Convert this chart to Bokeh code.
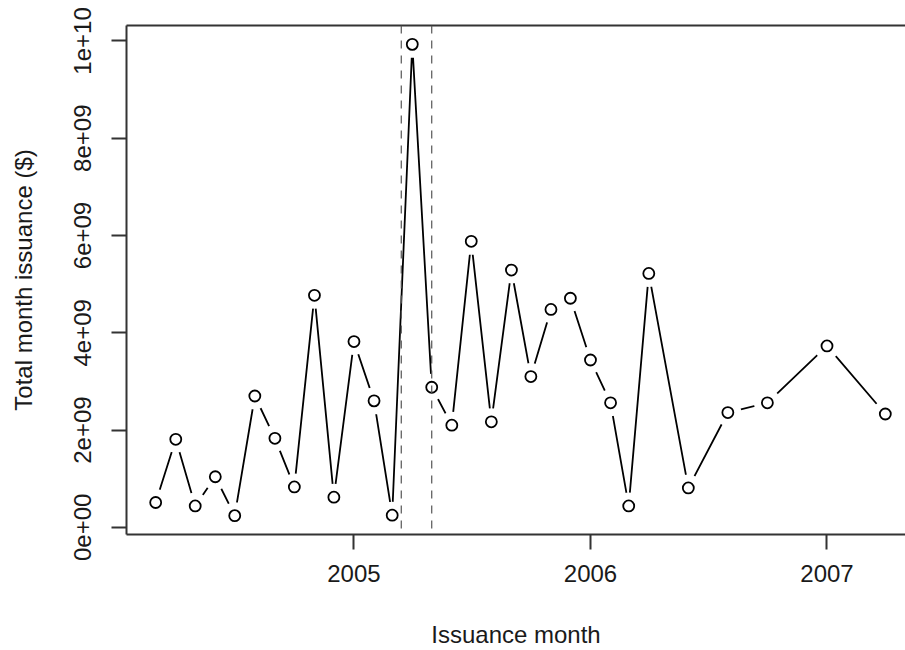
import pandas as pd
from bokeh.plotting import figure
from bokeh.models import (Range1d, FixedTicker, DatetimeTickFormatter, LinearAxis,
                          Span, ColumnDataSource)
from bokeh.embed import file_html
from bokeh.resources import INLINE

# ---------------- data ----------------
months = [
    "2004-03-01", "2004-04-01", "2004-05-01", "2004-06-01", "2004-07-01",
    "2004-08-01", "2004-09-01", "2004-10-01", "2004-11-01", "2004-12-01",
    "2005-01-01", "2005-02-01", "2005-03-01", "2005-04-01", "2005-05-01",
    "2005-06-01", "2005-07-01", "2005-08-01", "2005-09-01", "2005-10-01",
    "2005-11-01", "2005-12-01", "2006-01-01", "2006-02-01", "2006-03-01",
    "2006-04-01", "2006-06-01", "2006-08-01", "2006-10-01", "2007-01-01",
    "2007-04-01",
]
issuance_bn = [
    0.51, 1.81, 0.44, 1.04, 0.24,
    2.70, 1.83, 0.83, 4.77, 0.62,
    3.82, 2.60, 0.25, 9.93, 2.88,
    2.10, 5.88, 2.17, 5.29, 3.10,
    4.48, 4.71, 3.44, 2.56, 0.44,
    5.22, 0.81, 2.36, 2.56, 3.73,
    2.33,
]
event_dates = ["2005-03-15", "2005-05-01"]
x_tick_dates = ["2005-01-01", "2006-01-01", "2007-01-01"]
x_tick_labels = ["2005", "2006", "2007"]
y_ticks = [0, 2e9, 4e9, 6e9, 8e9, 1e10]
y_tick_labels = ["0e+00", "2e+09", "4e+09", "6e+09", "8e+09", "1e+10"]


def to_ms(d):
    return pd.Timestamp(d).value // 10**6


x_ms = [to_ms(d) for d in months]
totals = [v * 1e9 for v in issuance_bn]
event_ms = [to_ms(d) for d in event_dates]
x_tick_ms = [to_ms(d) for d in x_tick_dates]

# R-style 4% range extension; the right end is cropped as in the reference
xmin, xmax = min(x_ms), max(x_ms)
xspan = xmax - xmin
x0 = xmin - 0.04 * xspan
x1_full = xmax + 0.04 * xspan
x1 = x0 + (x1_full - x0) * 779.0 / 788.0
ymin, ymax = min(totals), max(totals)
yspan = ymax - ymin
y0 = ymin - 0.04 * yspan
y1 = ymax + 0.04 * yspan

FONT = "Liberation Sans"
INK = "#1a1a1a"
AXC = "#333333"

p = figure(width=905, height=650, x_axis_type="datetime",
           x_range=Range1d(x0, x1), y_range=Range1d(y0, y1),
           output_backend="svg", toolbar_location=None,
           min_border_left=126, min_border_right=0,
           min_border_top=25, min_border_bottom=116)
p.grid.grid_line_color = None
p.outline_line_color = None
p.background_fill_color = "white"
p.border_fill_color = "white"

for ax in (p.xaxis[0], p.yaxis[0]):
    ax.axis_line_color = AXC
    ax.axis_line_width = 2
    ax.major_tick_line_color = AXC
    ax.major_tick_line_width = 2
    ax.major_tick_out = 15
    ax.major_tick_in = 0
    ax.minor_tick_line_color = None
    ax.major_label_text_font = FONT
    ax.major_label_text_font_size = "24px"
    ax.major_label_text_color = INK
    ax.axis_label_text_font = FONT
    ax.axis_label_text_font_size = "24px"
    ax.axis_label_text_font_style = "normal"
    ax.axis_label_text_color = INK

xa = p.xaxis[0]
xa.ticker = FixedTicker(ticks=x_tick_ms)
xa.formatter = DatetimeTickFormatter(
    microseconds="%Y", milliseconds="%Y", seconds="%Y", minsec="%Y",
    minutes="%Y", hourmin="%Y", hours="%Y", days="%Y", months="%Y", years="%Y")
xa.major_label_overrides = dict(zip(x_tick_ms, x_tick_labels))
xa.major_label_standoff = 15
xa.axis_label = "Issuance month"
xa.axis_label_standoff = 36

ya = p.yaxis[0]
ya.ticker = FixedTicker(ticks=y_ticks)
ya.major_label_overrides = dict(zip(y_ticks, y_tick_labels))
ya.major_label_orientation = "vertical"
ya.major_label_standoff = 20
ya.axis_label = "Total month issuance ($)"
ya.axis_label_standoff = 35

top = LinearAxis(ticker=FixedTicker(ticks=[]), axis_line_color=AXC, axis_line_width=2,
                 major_tick_line_color=None, minor_tick_line_color=None,
                 major_tick_out=0, major_tick_in=0, major_label_standoff=0,
                 major_label_text_font_size="0px")
p.add_layout(top, "above")

src = ColumnDataSource(dict(month=x_ms, total=totals))
p.line("month", "total", source=src, line_color="black", line_width=1.8)
# gaps around the points, as in R's type = "b"
p.scatter("month", "total", source=src, size=27, marker="circle",
          fill_color="white", line_color=None)
p.scatter("month", "total", source=src, size=11, marker="circle",
          fill_color=None, line_color="black", line_width=1.8)

for d in event_ms:
    p.add_layout(Span(location=d, dimension="height", line_color="#555555",
                      line_width=1.2, line_dash="8 7"))

open("out.html", "w").write(file_html(p, INLINE))
